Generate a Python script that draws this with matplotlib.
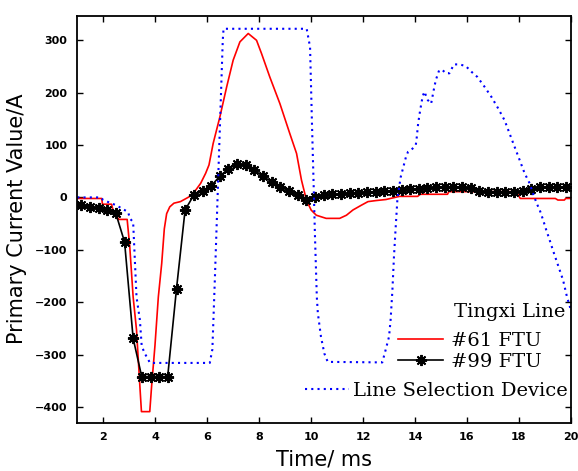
import matplotlib
matplotlib.use("Agg")
import matplotlib.pyplot as plt
from matplotlib.font_manager import FontProperties

# #61 FTU (red)
ftu61_t = [1.0, 1.94, 1.97, 2.32, 2.38, 2.45, 2.6, 2.92, 3.02, 3.15, 3.28, 3.41,
           3.47, 3.79, 3.86, 3.99, 4.12, 4.25, 4.35, 4.44, 4.56, 4.72, 4.97, 5.3,
           5.56, 5.75, 5.94, 6.07, 6.23, 6.49, 6.75, 7.0, 7.26, 7.58, 7.9, 8.09,
           8.41, 8.8, 9.18, 9.44, 9.63, 9.82, 10.0, 10.2, 10.58, 11.1, 11.36,
           11.61, 11.93, 12.19, 12.5, 12.88, 13.4, 14.1, 14.2, 15.25, 15.3, 17.9,
           18.05, 19.4, 19.5, 19.75, 19.8, 20.0]
ftu61_v = [-2, -2, -13, -13, -25, -31, -42, -42, -94, -190, -253, -361,
           -409, -409, -361, -283, -190, -126, -60, -31, -18, -11, -8, 1,
           14, 27, 46, 62, 103, 154, 211, 262, 297, 313, 300, 275,
           230, 179, 122, 84, 33, -5, -24, -34, -40, -40, -34,
           -24, -15, -8, -6, -4, 2, 2, 6, 6, 11, 11,
           -2, -2, -5, -5, -2, -2]

# #99 FTU (black, sampled)
ftu99_t = [0.82, 1.15, 1.48, 1.82, 2.15, 2.48, 2.82, 3.15, 3.48, 3.82, 4.15, 4.48,
           4.82, 5.15, 5.48, 5.82, 6.15, 6.48, 6.82, 7.15, 7.48, 7.82, 8.15, 8.48,
           8.82, 9.15, 9.48, 9.82, 10.15, 10.48, 10.82, 11.15, 11.48, 11.82, 12.15,
           12.48, 12.82, 13.15, 13.48, 13.82, 14.15, 14.48, 14.82, 15.15, 15.48,
           15.82, 16.15, 16.48, 16.82, 17.15, 17.48, 17.82, 18.15, 18.48, 18.82,
           19.15, 19.48, 19.82, 20.15]
ftu99_v = [-13, -15, -18, -21, -24, -30, -85, -269, -342, -342, -342, -342,
           -174, -24, 4, 12, 22, 40, 55, 63, 62, 52, 40, 30,
           20, 12, 4, -4, 0, 4, 6, 7, 8, 9, 10,
           11, 12, 13, 14, 16, 17, 18, 19, 20, 20,
           19, 18, 12, 11, 11, 10, 11, 12, 17, 20,
           19, 20, 19, 19]

# Line Selection Device (blue dotted)
lsd_t = [1.0, 1.9, 2.0, 2.5, 2.96, 3.02, 3.15, 3.28, 3.41, 3.48, 3.6, 3.8,
         6.1, 6.2, 6.3, 6.4, 6.5, 6.6, 6.63, 9.83, 9.96, 10.03, 10.1, 10.15,
         10.22, 10.26, 10.38, 10.51, 10.64, 12.74, 12.87, 13.0, 13.06, 13.13,
         13.19, 13.25, 13.32, 13.39, 13.45, 13.55, 13.65, 13.73, 13.9, 14.03,
         14.07, 14.12, 14.2, 14.29, 14.36, 14.49, 14.62, 14.72, 14.8, 14.93,
         15.06, 15.19, 15.32, 15.5, 15.7, 15.95, 16.17, 16.4, 16.68, 16.94,
         17.2, 17.45, 17.64, 17.83, 18.03, 18.22, 18.41, 18.54, 18.68, 18.8,
         18.93, 19.05, 19.18, 19.31, 19.44, 19.57, 19.7, 19.85, 20.0]
lsd_v = [0, 0, -5, -15, -28, -40, -47, -190, -234, -284, -298, -316,
         -316, -290, -150, 0, 150, 300, 322, 322, 287, 148, 20, -75,
         -190, -221, -266, -298, -314, -315, -291, -266, -234, -177,
         -113, -62, -5, 20, 39, 58, 77, 87, 93, 100,
         116, 141, 167, 192, 202, 186, 179, 205, 224, 243,
         243, 237, 237, 254, 254, 251, 240, 230, 211, 192,
         170, 147, 122, 97, 71, 46, 27, 8, -11, -24,
         -43, -62, -81, -101, -120, -139, -158, -190, -215]

x_ticks = [2, 4, 6, 8, 10, 12, 14, 16, 18, 20]
y_ticks = [-400, -300, -200, -100, 0, 100, 200, 300]


def main():
    fig = plt.figure(figsize=(5.78, 4.71), dpi=100)
    ax = fig.add_axes([0.1337, 0.1027, 0.854, 0.864])

    l_red, = ax.plot(ftu61_t, ftu61_v, color="#ff0000", lw=1.2)
    l_blk, = ax.plot(ftu99_t, ftu99_v, color="black", lw=1.2,
                     marker=(8, 2, 0), markersize=8, mew=1.4)
    l_blu, = ax.plot(lsd_t, lsd_v, color="#0000ff", lw=1.5,
                     linestyle=(0, (1, 2)))

    ax.set_xlim(1, 20)
    ax.set_ylim(-430, 347)
    ax.set_xticks(x_ticks)
    ax.set_yticks(y_ticks)
    ax.tick_params(direction="in", top=True, right=True, length=4,
                   width=1, labelsize=8, pad=7)
    for lab in ax.get_xticklabels() + ax.get_yticklabels():
        lab.set_fontweight("bold")
    for sp in ax.spines.values():
        sp.set_linewidth(1.3)

    ax.set_xlabel("Time/ ms", fontsize=15, labelpad=5)
    ax.set_ylabel("Primary Current Value/A", fontsize=15, labelpad=6)

    serif = FontProperties(family="DejaVu Serif", size=14)
    ax.text(0.988, 0.272, "Tingxi Line", transform=ax.transAxes,
            ha="right", va="center", fontproperties=serif)
    opts = dict(loc="center right", frameon=False, prop=serif,
                borderpad=0, borderaxespad=0, handlelength=2.3)
    leg1 = ax.legend([l_red], ["#61 FTU"], bbox_to_anchor=(0.94, 0.200),
                     handletextpad=0.4, **opts)
    ax.add_artist(leg1)
    leg2 = ax.legend([l_blk], ["#99 FTU"], bbox_to_anchor=(0.94, 0.149),
                     handletextpad=0.4, **opts)
    ax.add_artist(leg2)
    ax.legend([l_blu], ["Line Selection Device"],
              bbox_to_anchor=(0.994, 0.078), handletextpad=0.2, **opts)

    fig.savefig("out.png", dpi=100)


if __name__ == "__main__":
    main()
